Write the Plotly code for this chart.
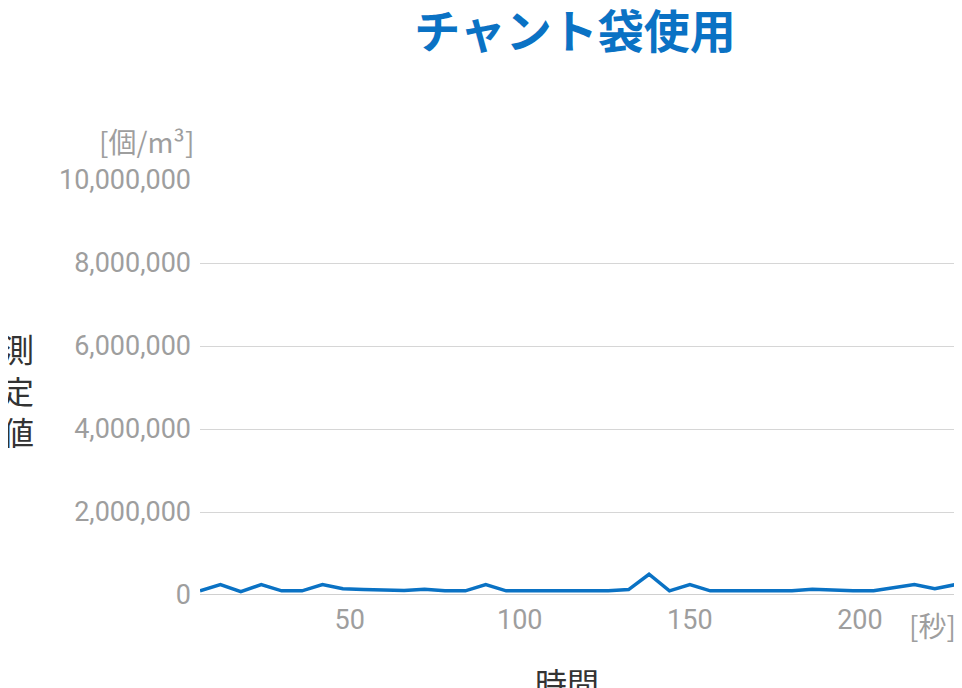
import plotly.graph_objects as go

times = list(range(6, 229, 6))
values = [100000, 250000, 80000, 250000, 100000, 100000, 250000, 150000, 130000, 120000,
          110000, 140000, 100000, 100000, 250000, 100000, 100000, 100000, 100000, 100000,
          100000, 130000, 500000, 100000, 250000, 100000, 100000, 100000, 100000, 100000,
          140000, 110000, 100000, 100000, 180000, 250000, 150000, 250000]
times = times[:len(values)]
xticks = [50, 100, 150, 200]
yticks = [0, 2000000, 4000000, 6000000, 8000000, 10000000]

gray = "#9e9e9e"
W, H = 954, 680
fig = go.Figure(go.Scatter(x=times, y=values, mode="lines",
                           line=dict(color="#0a72c4", width=3.5)))
fig.update_layout(
    width=W, height=H, plot_bgcolor="white", paper_bgcolor="white",
    margin=dict(l=192, r=0, t=172, b=93), showlegend=False,
    font=dict(family="Roboto, Noto Sans CJK JP", color=gray, size=26),
    title=dict(text="<b>チャント袋使用</b>", x=567 / W, xanchor="center", y=1 - 8 / H, yanchor="top",
               font=dict(size=46, color="#0a72c4", family="Noto Sans CJK JP")),
)
fig.update_xaxes(range=[6, 230], tickvals=xticks, showgrid=False, zeroline=False,
                 ticks="", ticklabelstandoff=6, tickfont=dict(size=27, color=gray))
fig.update_yaxes(range=[0, 10000000], tickvals=yticks, tickformat=",d",
                 showgrid=True, gridcolor="#d6d6d6", zeroline=False,
                 showline=False, ticks="", ticklabelstandoff=8,
                 tickfont=dict(size=27, color=gray))
fig.add_shape(type="line", xref="paper", yref="y", x0=0, x1=1, y0=0, y1=0,
              line=dict(color="#d0d0d0", width=2))
fig.add_annotation(text="[個/m³]", xref="paper", yref="paper", x=-0.005, y=1.04,
                   xanchor="right", yanchor="bottom", showarrow=False,
                   font=dict(size=28, color=gray, family="Noto Sans CJK JP"))
fig.add_annotation(text="[秒]", xref="paper", yref="paper", x=0.995, y=-0.02,
                   xanchor="right", yanchor="top", showarrow=False,
                   font=dict(size=28, color=gray, family="Noto Sans CJK JP"))
fig.add_annotation(text="時間", xref="paper", yref="paper", x=(567 - 200) / 762, y=-0.15,
                   xanchor="center", yanchor="top", showarrow=False,
                   font=dict(size=32, color="#333333", family="Noto Sans CJK JP"))
fig.add_annotation(text="測<br>定<br>値", xref="paper", yref="paper",
                   x=-(200 - 18) / 762, y=(587 - 385) / 407, xanchor="center", yanchor="middle",
                   showarrow=False,
                   font=dict(size=32, color="#333333", family="Noto Sans CJK JP"))
fig.write_html("out.html")
